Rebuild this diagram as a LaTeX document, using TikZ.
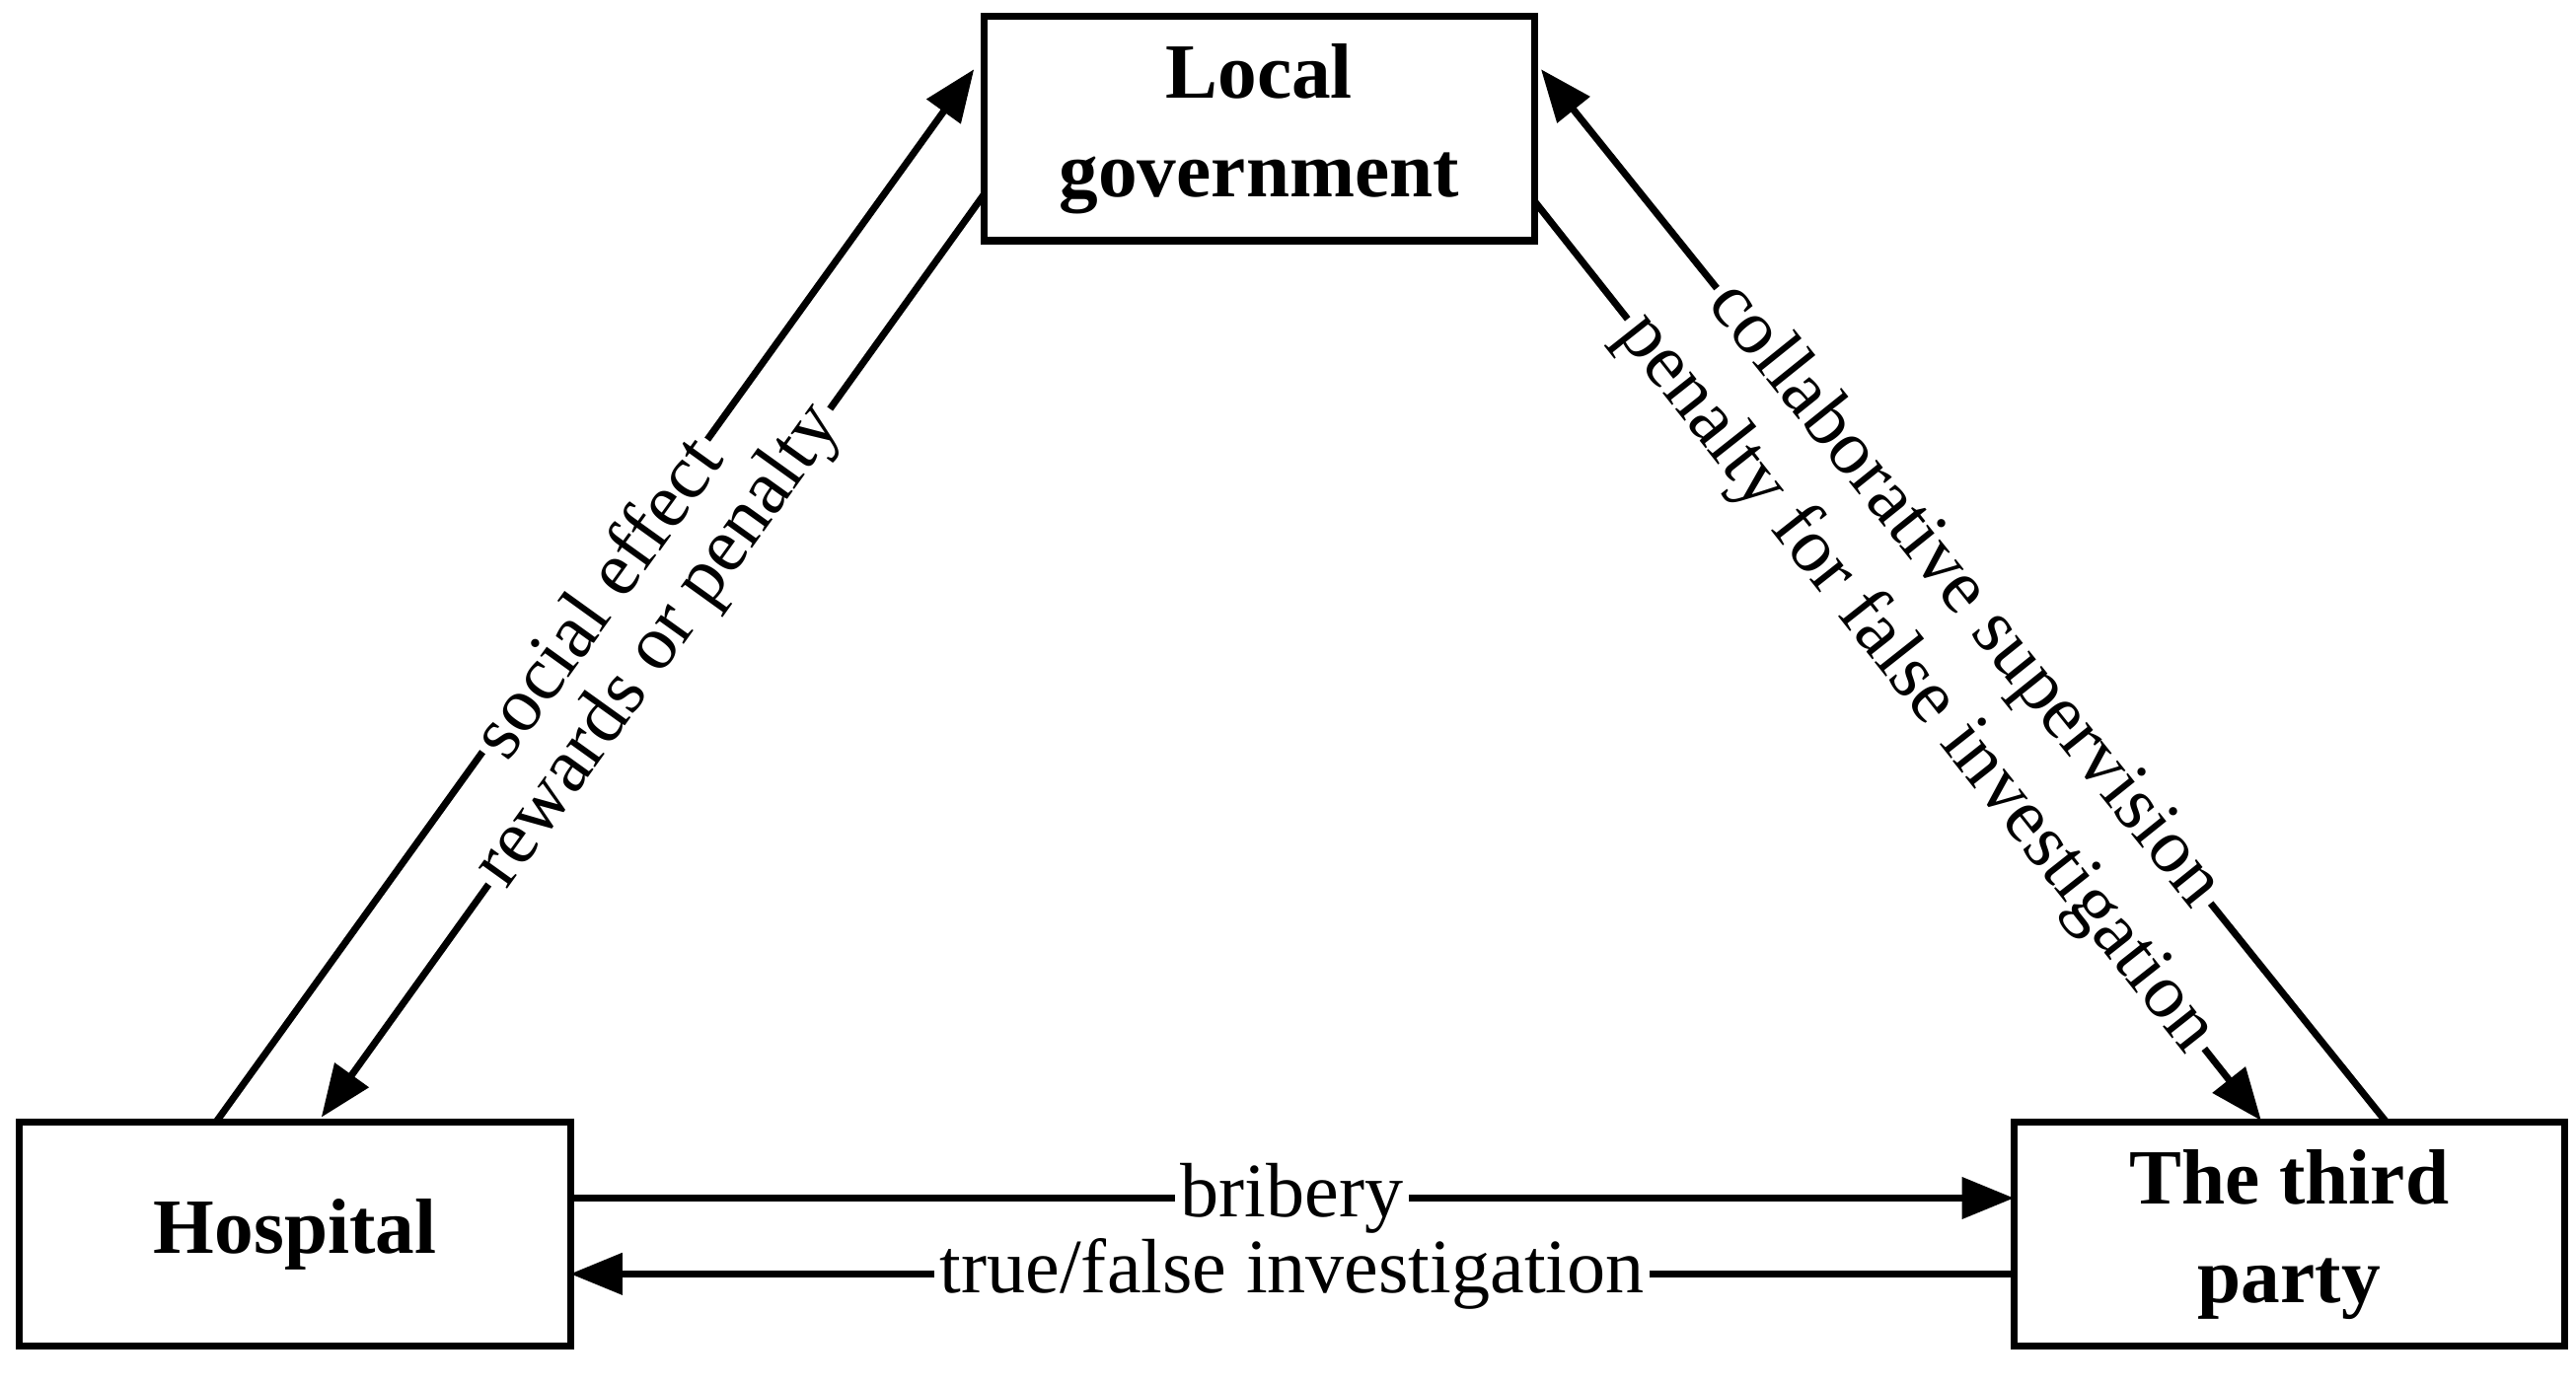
\documentclass[tikz,border=0pt]{standalone}
\usepackage{fontspec}
\setmainfont{Liberation Serif}
\usetikzlibrary{arrows.meta}
\begin{document}
\begin{tikzpicture}[x=0.01cm,y=-0.01cm,
  box/.style={draw,line width=1.2pt,minimum width=3.34cm,minimum height=1.36cm,align=center,font=\fontsize{13.5}{17}\selectfont\bfseries,inner sep=0pt},
  arr/.style={line width=1.2pt,-{Triangle[length=9pt,width=7pt]}},
  lab/.style={sloped,fill=white,inner sep=1pt,font=\fontsize{13.3}{15}\selectfont}]
\useasboundingbox (0,0) rectangle (1563,841);
\node[box] (lg) at (764,78) {Local\\government};
\node[box] (h) at (179,749) {Hospital};
\node[box] (tp) at (1389,749) {The third\\party};
\coordinate (a1) at (131,681); \coordinate (a2) at (591,42);
\coordinate (b1) at (597,118); \coordinate (b2) at (195,678);
\coordinate (c1) at (1448,681); \coordinate (c2) at (935,42);
\coordinate (d1) at (931,122); \coordinate (d2) at (1372,680);
\coordinate (e1) at (346,727); \coordinate (e2) at (1222,727);
\coordinate (f1) at (1222,773); \coordinate (f2) at (346,773);
\draw[arr] (a1) -- node[lab,pos=0.5]{social effect} (a2);
\draw[arr] (b1) -- node[lab,pos=0.49]{rewards or penalty} (b2);
\draw[arr] (c1) -- node[lab,pos=0.5]{collaborative supervision} (c2);
\draw[arr] (d1) -- node[lab,pos=0.525]{penalty for false investigation} (d2);
\draw[arr] (e1) -- node[lab,pos=0.5]{bribery} (e2);
\draw[arr] (f1) -- node[lab,pos=0.5]{true/false investigation} (f2);
\end{tikzpicture}
\end{document}
